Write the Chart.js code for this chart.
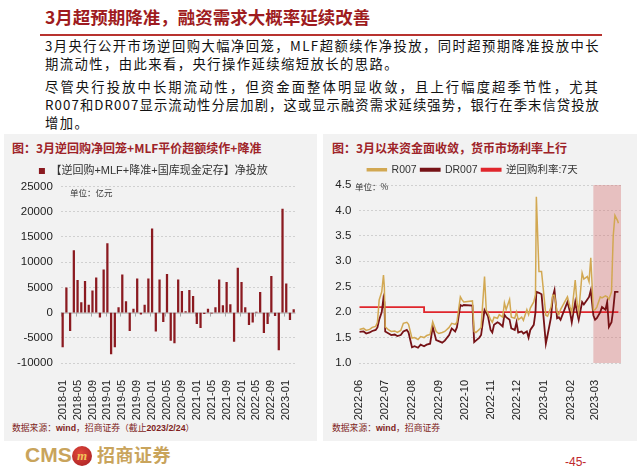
<!DOCTYPE html>
<html>
<head>
<meta charset="utf-8">
<script src="https://cdn.jsdelivr.net/npm/chart.js@4.4.0/dist/chart.umd.min.js"></script>
<style>
body { margin:0; width:640px; height:469px; background:#fff; position:relative; overflow:hidden; font-family:"Noto Sans CJK SC", sans-serif; }
.abs { position:absolute; white-space:nowrap; }
#title { left:45px; top:4px; font-size:17.5px; line-height:26px; color:#9E1B20; font-weight:bold; }
#rule { left:40px; top:34px; width:562px; height:2px; background:#B8322F; }
.para { left:45px; font-size:13.3px; line-height:18px; color:#111; }
.panel { background:#F2F2F2; top:134px; height:307px; }
.ptitle { font-size:12px; line-height:16px; color:#9E2328; font-weight:bold; }
.unit { font-size:8.5px; color:#333; }
.src { font-size:8.8px; color:#7F1F22; }
canvas { position:absolute; }
</style>
</head>
<body>
<div id="title" class="abs">3月超预期降准，融资需求大概率延续改善</div>
<div id="rule" class="abs"></div>

<div class="abs para fit" style="top:37px">3月央行公开市场逆回购大幅净回笼，MLF超额续作净投放，同时超预期降准投放中长</div>
<div class="abs para" style="top:55px">期流动性，由此来看，央行操作延续缩短放长的思路。</div>
<div class="abs para fit" style="top:78px">尽管央行投放中长期流动性，但资金面整体明显收敛，且上行幅度超季节性，尤其</div>
<div class="abs para fit" style="top:96px">R007和DR007显示流动性分层加剧，这或显示融资需求延续强势，银行在季末信贷投放</div>
<div class="abs para" style="top:114px">增加。</div>

<div class="abs panel" style="left:4px;width:313px"></div>
<div class="abs panel" style="left:323px;width:314px"></div>

<div class="abs ptitle" style="left:12px;top:140px">图：3月逆回购净回笼+MLF平价超额续作+降准</div>
<div class="abs ptitle" style="left:332px;top:140px">图：3月以来资金面收敛，货币市场利率上行</div>

<canvas id="barChart" style="left:4px;top:158px" width="312" height="262"></canvas>
<canvas id="rateChart" style="left:324px;top:157px" width="312" height="263"></canvas>

<div class="abs unit" style="left:70px;top:186px">单位：亿元</div>
<div class="abs unit" style="left:355px;top:180px">单位：%</div>

<div class="abs src" style="left:12px;top:421px">数据来源：<b style="font-family:'Liberation Sans'">wind</b>，招商证券（截止<b style="font-family:'Liberation Sans'">2023/2/24</b>）</div>
<div class="abs src" style="left:332px;top:421px">数据来源：<b style="font-family:'Liberation Sans'">wind</b>，招商证券</div>

<div class="abs" style="left:25px;top:443px;font:bold 21px 'Liberation Sans';color:#C9A45C">CMS</div>
<div class="abs" style="left:72px;top:446px;width:20px;height:20px;border-radius:50%;background:radial-gradient(circle at 40% 35%,#E0463A,#A51E22);color:#F2C45A;font:italic bold 13px 'Liberation Serif';text-align:center;line-height:19px">m</div>
<div class="abs" style="left:97px;top:441px;font-size:18px;letter-spacing:0.5px;font-weight:bold;color:#C9A45C">招商证券</div>
<div class="abs" style="left:565px;top:455px;font:12px 'Liberation Sans';color:#C0272D">-45-</div>

<script>
// stretch the full text lines to the slide width
document.querySelectorAll('.fit').forEach(el => {
	const n = el.textContent.length;
	const w = el.getBoundingClientRect().width;
	el.style.letterSpacing = ((555 - w) / n) + 'px';
});
document.querySelectorAll('.para:not(.fit)').forEach(el => {
	el.style.letterSpacing = document.querySelector('.fit').style.letterSpacing;
});

Chart.defaults.font.family = '"Liberation Sans", "Noto Sans CJK SC", sans-serif';
Chart.defaults.color = '#222';

// ---------- left chart: monthly net injection ----------
const barMonths = [];
for (let y = 2018; y <= 2023; y++) {
	for (let m = 1; m <= 12; m++) {
		if (y === 2023 && m > 3) break;
		barMonths.push(y + '-' + String(m).padStart(2, '0'));
	}
}
const netInjection = [
	-6800, 4900, -3600, 12300, 6400, 2000, 6200, 1500, 4300, 6900, -900, 8500,    // 2018
	13700, -8200, -6800, 1000, 7500, 2200, -3600, 700, 6700, -300, 1500, 6700,    // 2019
	16600, -3700, 6500, -1800, 7600, -5500, -6000, 6500, 4200, 200, 4400, 3200,   // 2020
	-2200, -3000, -200, 700, -100, 1000, 6500, 1400, 6000, 1600, -5700, 8800,     // 2021
	6000, 1000, -2400, -1900, 100, 4000, -4000, -2200, 7200, -600, -7400, 20500,  // 2022
	5700, -1400, 600                                                              // 2023
];
const barMin = -10000, barMax = 25000, barStep = 5000;

// ---------- right chart: R007 / DR007 / 7-day reverse repo ----------
const rateDates = [
	'2022-06-01','2022-06-06','2022-06-09','2022-06-13','2022-06-16','2022-06-20','2022-06-22','2022-06-24','2022-06-27','2022-06-29','2022-06-30',
	'2022-07-01','2022-07-05','2022-07-08','2022-07-12','2022-07-15','2022-07-19','2022-07-22','2022-07-26','2022-07-28',
	'2022-08-01','2022-08-04','2022-08-08','2022-08-11','2022-08-15','2022-08-18','2022-08-22','2022-08-25','2022-08-29',
	'2022-09-01','2022-09-05','2022-09-08','2022-09-13','2022-09-16','2022-09-20','2022-09-22','2022-09-26','2022-09-28','2022-09-30',
	'2022-10-10','2022-10-12','2022-10-14','2022-10-18','2022-10-20','2022-10-24','2022-10-26','2022-10-28','2022-10-31',
	'2022-11-02','2022-11-04','2022-11-08','2022-11-10','2022-11-14','2022-11-16','2022-11-18','2022-11-22','2022-11-24','2022-11-28','2022-11-30',
	'2022-12-02','2022-12-06','2022-12-08','2022-12-12','2022-12-14','2022-12-16','2022-12-20','2022-12-22','2022-12-23','2022-12-26','2022-12-29',
	'2023-01-03','2023-01-05','2023-01-09','2023-01-11','2023-01-13','2023-01-16','2023-01-18','2023-01-20','2023-01-28','2023-01-31',
	'2023-02-02','2023-02-06','2023-02-08','2023-02-10','2023-02-14','2023-02-16','2023-02-20','2023-02-22','2023-02-24','2023-02-27',
	'2023-03-01','2023-03-03','2023-03-07','2023-03-09','2023-03-13','2023-03-15','2023-03-17','2023-03-20','2023-03-22','2023-03-24','2023-03-27','2023-03-28'
];
const r007 = [
	1.66,1.68,1.64,1.66,1.70,1.72,1.80,2.24,2.40,2.73,2.50,
	1.71,1.65,1.62,1.63,1.60,1.64,1.78,1.80,1.76,
	1.49,1.50,1.46,1.52,1.50,1.54,1.56,1.81,1.62,
	1.58,1.60,1.62,1.70,1.78,1.76,1.80,2.30,2.24,2.20,
	2.22,1.62,1.60,1.66,1.70,2.70,2.04,1.98,1.85,
	1.80,1.90,1.88,1.95,1.90,2.18,2.05,2.25,1.90,1.88,2.00,
	1.85,1.90,1.84,2.05,1.95,2.08,2.20,2.35,4.27,2.80,2.80,
	1.94,1.92,2.10,2.33,2.33,2.00,1.95,2.05,2.30,2.10,
	2.00,2.63,2.20,2.00,2.77,2.65,2.70,2.60,3.07,2.04,
	2.05,2.10,2.30,2.28,2.32,2.30,2.25,2.40,3.50,3.90,3.80,3.75
];
const dr007 = [
	1.61,1.62,1.58,1.60,1.63,1.65,1.70,1.85,2.00,2.28,2.20,
	1.62,1.58,1.55,1.56,1.53,1.55,1.62,1.65,1.60,
	1.31,1.33,1.30,1.36,1.33,1.36,1.38,1.71,1.45,
	1.43,1.40,1.44,1.55,1.68,1.62,1.70,2.14,2.12,2.14,
	2.13,1.41,1.44,1.50,1.55,2.04,1.98,1.92,1.65,
	1.60,1.75,1.80,1.78,1.72,1.95,1.90,1.85,1.68,1.65,1.80,
	1.60,1.62,1.58,1.62,1.50,1.65,1.75,2.00,2.40,2.38,2.35,
	1.38,1.55,1.90,2.30,2.43,1.88,1.90,1.85,2.20,2.00,
	1.80,2.20,2.00,1.85,2.20,2.15,2.25,2.30,2.43,1.94,
	1.85,1.88,2.00,2.10,2.05,2.20,1.71,1.80,2.05,2.40,2.40,2.40
];
const repoDates = ['2022-06-01', '2022-08-15', '2023-03-28'];
const repoRates = [2.1, 2.0, 2.0];
const rateMonths = ['2022-06','2022-07','2022-08','2022-09','2022-10','2022-11','2022-12','2023-01','2023-02','2023-03'];
const rateStart = '2022-06-01', rateEnd = '2023-03-31';
const shadeFrom = '2023-02-27', shadeTo = '2023-03-31';
const rateMin = 1.0, rateMax = 4.5, rateStep = 0.5;

function dayOf(s) {
	return (Date.parse(s) - Date.parse(rateStart)) / 86400000;
}

// zero line + little ticks for the bar chart
const zeroLine = {
	id: 'zeroLine',
	beforeDatasetsDraw(chart) {
		const {ctx, chartArea, scales} = chart;
		const y0 = scales.y.getPixelForValue(0);
		ctx.save();
		ctx.strokeStyle = '#A6A6A6';
		ctx.lineWidth = 1;
		ctx.beginPath();
		ctx.moveTo(chartArea.left, y0 + 0.5);
		ctx.lineTo(chartArea.right, y0 + 0.5);
		const half = (chartArea.right - chartArea.left) / barMonths.length / 2;
		barMonths.forEach((m, i) => {
			if (i % 4 !== 0) return;
			const x = Math.round(scales.x.getPixelForValue(i) - half) + 0.5;
			ctx.moveTo(x, y0);
			ctx.lineTo(x, y0 + 4);
		});
		ctx.stroke();
		ctx.restore();
	}
};

// pink band for march
const shadeBand = {
	id: 'shadeBand',
	beforeDatasetsDraw(chart) {
		const {ctx, scales} = chart;
		const x1 = scales.x.getPixelForValue(dayOf(shadeFrom));
		const x2 = scales.x.getPixelForValue(dayOf(shadeTo));
		const y1 = scales.y.getPixelForValue(rateMax);
		const y2 = scales.y.getPixelForValue(rateMin);
		ctx.save();
		ctx.fillStyle = 'rgba(214, 110, 110, 0.38)';
		ctx.fillRect(x1, y1, x2 - x1, y2 - y1);
		ctx.restore();
	}
};

new Chart(document.getElementById('barChart'), {
	type: 'bar',
	data: {
		labels: barMonths,
		datasets: [{
			label: '【逆回购+MLF+降准+国库现金定存】净投放',
			data: netInjection,
			backgroundColor: '#8B1A20',
			borderWidth: 0,
			barThickness: 1.6
		}]
	},
	options: {
		animation: false,
		responsive: false,
		layout: { padding: { top: 3.5, right: 13.4, left: 0, bottom: 0 } },
		plugins: {
			legend: {
				labels: { boxWidth: 6, boxHeight: 6, padding: 4, font: { size: 11 }, color: '#333' }
			},
			tooltip: { enabled: false }
		},
		scales: {
			x: {
				grid: { display: false },
				border: { display: false },
				ticks: {
					autoSkip: false, maxRotation: 90, minRotation: 90, padding: 9,
					font: { size: 11 },
					callback: (v, i) => i % 4 === 0 ? barMonths[i] : ''
				},
				afterFit: s => { s.height = 57; }
			},
			y: {
				min: barMin, max: barMax,
				grid: { color: ctx => ctx.tick.value === 0 ? 'rgba(0,0,0,0)' : '#D0D0D0', drawTicks: false },
				border: { display: false, dash: [2, 2] },
				ticks: { stepSize: barStep, padding: 8, font: { size: 11.5 }, callback: v => String(v) },
				afterFit: s => { s.width = 56.8; }
			}
		}
	},
	plugins: [zeroLine]
});

new Chart(document.getElementById('rateChart'), {
	type: 'line',
	data: {
		datasets: [{
			label: 'R007',
			data: rateDates.map((d, i) => ({ x: dayOf(d), y: r007[i] })),
			borderColor: '#D2A852', backgroundColor: '#D2A852',
			borderWidth: 1.5, pointRadius: 0
		}, {
			label: 'DR007',
			data: rateDates.map((d, i) => ({ x: dayOf(d), y: dr007[i] })),
			borderColor: '#761216', backgroundColor: '#761216',
			borderWidth: 1.8, pointRadius: 0
		}, {
			label: '逆回购利率:7天',
			data: repoDates.map((d, i) => ({ x: dayOf(d), y: repoRates[i] })),
			borderColor: '#E0262C', backgroundColor: '#E0262C',
			borderWidth: 1.8, pointRadius: 0, stepped: true
		}]
	},
	options: {
		animation: false,
		responsive: false,
		layout: { padding: { top: 3.5, right: 15, left: 0, bottom: 0 } },
		plugins: {
			legend: {
				labels: { boxWidth: 19, boxHeight: 2, padding: 4, font: { size: 10.5 }, color: '#333' }
			},
			tooltip: { enabled: false }
		},
		scales: {
			x: {
				type: 'linear',
				min: 0, max: dayOf(rateEnd),
				grid: { display: false },
				border: { display: false },
				afterBuildTicks: s => { s.ticks = rateMonths.map(m => ({ value: dayOf(m + '-01') })); },
				ticks: {
					autoSkip: false, maxRotation: 90, minRotation: 90, padding: 9,
					font: { size: 11 },
					callback: (v, i) => rateMonths[i]
				},
				afterFit: s => { s.height = 57; }
			},
			y: {
				min: rateMin, max: rateMax,
				grid: { color: '#D0D0D0', drawTicks: false },
				border: { display: false, dash: [2, 2] },
				ticks: { stepSize: rateStep, padding: 8, font: { size: 11.5 }, callback: v => v.toFixed(1) },
				afterFit: s => { s.width = 35.3; }
			}
		}
	},
	plugins: [shadeBand]
});
</script>
</body>
</html>
